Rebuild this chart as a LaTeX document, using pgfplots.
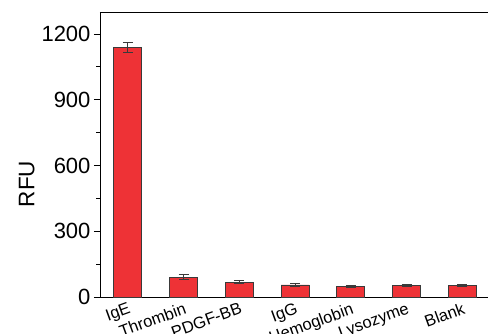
\documentclass[border=0pt]{standalone}
\usepackage{pgfplots}
\pgfplotsset{compat=1.18}
\usepackage{fontspec}
\setmainfont{Liberation Sans}
\definecolor{barred}{HTML}{EE3236}
\definecolor{edgec}{HTML}{3A3A3A}
\begin{document}
\begin{tikzpicture}
\begin{axis}[
  width=388pt, height=285pt, scale only axis,
  xmin=-0.5, xmax=6.46, ymin=0, ymax=1300,
  axis x line=box, axis y line=left,
  axis line style={line width=0.9pt, -},
  xtick=data,
  xticklabels={IgE,Thrombin,PDGF-BB,IgG,Hemoglobin,Lysozyme,Blank},
  x tick label style={rotate=20, anchor=north east, font=\fontsize{16.5}{17}\selectfont, inner sep=1pt, yshift=2pt, xshift=1pt},
  x tick style={draw=none},
  ytick={0,300,600,900,1200},
  minor ytick={150,450,750,1050},
  y tick style={line width=0.8pt, black},
  major tick length=6pt, minor tick length=3.5pt,
  tick align=outside,
  y tick label style={font=\fontsize{22}{23}\selectfont},
  /pgf/number format/assume math mode=true,
  /pgf/number format/1000 sep={},
  ylabel={RFU},
  ylabel style={font=\fontsize{22.5}{24}\selectfont, at={(ticklabel cs:0.453)}, xshift=-16pt},
  clip=false,
]
\addplot[ybar, bar width=28pt, fill=barred, draw=edgec, line width=0.8pt,
  error bars/.cd, y dir=both, y explicit,
  error bar style={line width=0.8pt, edgec},
  error mark options={rotate=90, line width=0.8pt, edgec, mark size=5pt}]
  coordinates {
  (0,1138) +- (0,24)
  (1,91) +- (0,13)
  (2,68) +- (0,7)
  (3,55) +- (0,5)
  (4,50) +- (0,4)
  (5,53) +- (0,3)
  (6,53) +- (0,3)
  };
\end{axis}
\pgfresetboundingbox
\path (current axis.south west) ++(-100pt,-37pt) rectangle ++(488pt,334pt);
\end{tikzpicture}
\end{document}
